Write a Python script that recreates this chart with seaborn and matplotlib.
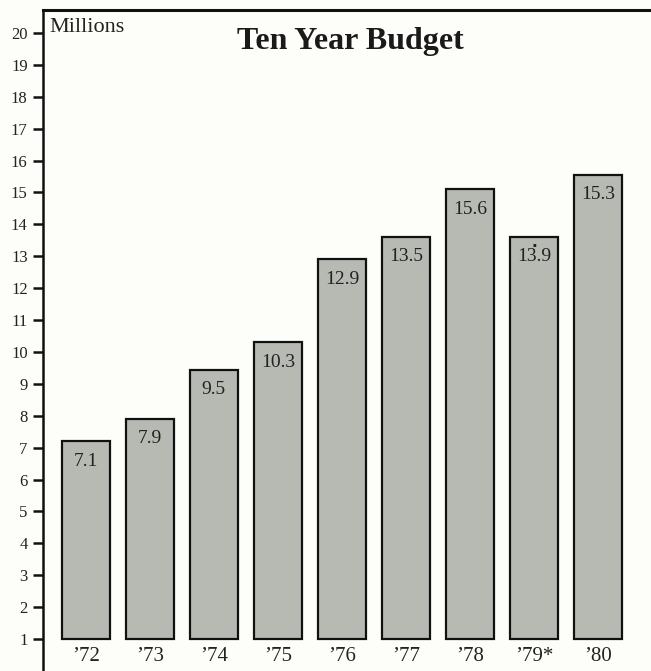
import matplotlib
matplotlib.use("Agg")
import matplotlib.pyplot as plt
import seaborn as sns
import pandas as pd

years = ["'72", "'73", "'74", "'75", "'76", "'77", "'78", "'79*", "'80"]
year_labels = ["\u201972", "\u201973", "\u201974", "\u201975", "\u201976", "\u201977", "\u201978", "\u201979*", "\u201980"]
bar_heights = [7.2, 7.9, 9.45, 10.3, 12.9, 13.6, 15.1, 13.6, 15.55]
value_labels = ["7.1", "7.9", "9.5", "10.3", "12.9", "13.5", "15.6", "13.9", "15.3"]
baseline = 1
yticks = list(range(1, 21))

sns.set_theme(style="white")
plt.rcParams['font.family'] = ['Liberation Serif', 'DejaVu Serif']

df = pd.DataFrame({"year": years, "value": bar_heights})

fig = plt.figure(figsize=(6.51, 6.71), dpi=100)
fig.patch.set_facecolor("#fdfdfa")
ax = fig.add_axes([43/651, 0.0, 1 - 43/651, 1 - 10/671])
ax.set_facecolor("#fdfdfa")

sns.barplot(data=df, x="year", y="value", color="#b7b9b3", saturation=1,
            edgecolor="#111111", linewidth=1.6, width=0.75, ax=ax)

# bars start at the baseline of 1 million
for p, h in zip(ax.patches, bar_heights):
    p.set_y(baseline)
    p.set_height(h - baseline)

ax.set_xlim(-0.67, 8.83)
ax.set_ylim(0, 20.72)
ax.set_yticks(yticks)
ax.set_yticklabels([str(t) for t in yticks], fontsize=12)
ax.set_xticks([])
ax.set_xlabel("")
ax.set_ylabel("")
ax.tick_params(axis="y", which="both", left=True, length=7, width=1.8,
               color="#111111", pad=4, labelcolor="#222222", labelsize=12)

for s in ["right", "bottom"]:
    ax.spines[s].set_visible(False)
ax.spines["left"].set_linewidth(1.8)
ax.spines["left"].set_color("#111111")
ax.spines["top"].set_linewidth(2.2)
ax.spines["top"].set_color("#111111")

for i, (h, lab) in enumerate(zip(bar_heights, value_labels)):
    ax.text(i, h - 0.62, lab, ha="center", va="center", fontsize=14, color="#222222")
# small mark above the '79 value
ax.text(7, bar_heights[7] - 0.22, "\u25aa", ha="center", va="center", fontsize=4,
        color="#222222", family=["DejaVu Sans"])

for i, lab in enumerate(year_labels):
    ax.text(i, 0.47, lab, ha="center", va="center", fontsize=15, color="#222222")

ax.text(0.01, 0.988, "Millions", transform=ax.transAxes, ha="left", va="top",
        fontsize=16, color="#222222")
ax.text(350/651, 1 - 42/671, "Ten Year Budget", transform=fig.transFigure,
        ha="center", va="center", fontsize=23, fontweight="bold", color="#1a1a1a")

fig.savefig("out.png", dpi=100, facecolor=fig.get_facecolor())
